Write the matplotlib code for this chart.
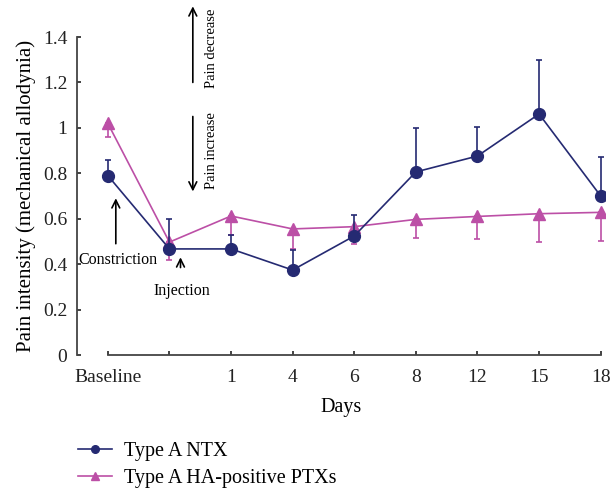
import matplotlib
matplotlib.use("Agg")
import matplotlib.pyplot as plt
from matplotlib.lines import Line2D
import numpy as np

plt.rcParams['font.family'] = ['Liberation Serif', 'DejaVu Serif']

# categories along the x axis (second slot is the injection point, unlabeled)
x_labels = ['Baseline', '', '1', '4', '6', '8', '12', '15', '18']

# Type A NTX
ntx_mean = [0.79, 0.467, 0.467, 0.374, 0.524, 0.806, 0.876, 1.061, 0.70]
ntx_err_up = [0.07, 0.133, 0.06, 0.09, 0.093, 0.194, 0.128, 0.238, 0.172]

# Type A HA-positive PTXs
ptx_mean = [1.02, 0.497, 0.612, 0.555, 0.565, 0.597, 0.610, 0.622, 0.628]
ptx_err_down = [0.06, 0.079, 0.082, 0.088, 0.075, 0.082, 0.10, 0.125, 0.126]

ntx_color = '#252a72'
ptx_color = '#bc4fa6'

x = np.arange(len(x_labels))

fig = plt.figure(figsize=(6.11, 4.96), dpi=100)
ax = fig.add_axes([77 / 611, 141 / 496, 528 / 611, 318 / 496])

zeros = np.zeros(len(x))
ax.errorbar(x, ntx_mean, yerr=[zeros, ntx_err_up], color=ntx_color, marker='o',
            markersize=8.5, linewidth=1.2, elinewidth=1.2, capsize=2.5,
            capthick=1.2, zorder=3)
ax.errorbar(x, ptx_mean, yerr=[ptx_err_down, zeros], color=ptx_color, marker='^',
            markersize=8, linewidth=1.2, elinewidth=1.2, capsize=2.5,
            capthick=1.2, zorder=2)

ax.set_xlim(-0.5, 8.07)
ax.set_ylim(0, 1.4)
ax.set_yticks(np.arange(0, 1.41, 0.2))
ax.set_yticklabels(['0', '0.2', '0.4', '0.6', '0.8', '1', '1.2', '1.4'])
ax.set_xticks(x)
ax.set_xticklabels(x_labels)
ax.tick_params(direction='in', length=3, width=1.2, labelsize=14, colors='#222222')
ax.tick_params(axis='x', pad=10)
ax.tick_params(axis='y', pad=7)

for s in ['top', 'right']:
    ax.spines[s].set_visible(False)
ax.spines['left'].set_linewidth(1.3)
ax.spines['bottom'].set_linewidth(1.3)
ax.spines['left'].set_color('#444444')
ax.spines['bottom'].set_color('#444444')
ax.spines['bottom'].set_bounds(0, 8)

ax.set_ylabel('Pain intensity (mechanical allodynia)', fontsize=15, labelpad=5)
ax.set_xlabel('Days', fontsize=14.5, labelpad=9)

# annotations
arrow = dict(arrowstyle='->', color='black', lw=1.2, mutation_scale=14,
             shrinkA=0, shrinkB=0)
ax.annotate('', xy=(0.13, 0.69), xytext=(0.13, 0.49), arrowprops=arrow)
ax.text(-0.48, 0.42, 'Constriction', fontsize=11.5, va='center', ha='left')
ax.annotate('', xy=(1.18, 0.43), xytext=(1.18, 0.385), arrowprops=arrow)
ax.text(1.2, 0.28, 'Injection', fontsize=11.5, va='center', ha='center')

ax.annotate('', xy=(1.38, 1.535), xytext=(1.38, 1.20), arrowprops=arrow,
            annotation_clip=False)
ax.annotate('', xy=(1.38, 0.72), xytext=(1.38, 1.05), arrowprops=arrow,
            annotation_clip=False)
ax.text(1.69, 1.35, 'Pain decrease', rotation=90, fontsize=10.5,
        va='center', ha='center', clip_on=False)
ax.text(1.69, 0.90, 'Pain increase', rotation=90, fontsize=10.5,
        va='center', ha='center', clip_on=False)

handles = [
    Line2D([], [], color=ntx_color, marker='o', markersize=5.5, linewidth=1.2),
    Line2D([], [], color=ptx_color, marker='^', markersize=5.5, linewidth=1.2),
]
labels = ['Type A NTX', 'Type A HA-positive PTXs']
fig.legend(handles, labels, loc='upper left', bbox_to_anchor=(0.1146, 0.125),
           frameon=False, fontsize=14.5, handlelength=1.7,
           labelspacing=0.4, handletextpad=0.6, borderaxespad=0)

fig.savefig('out.png', dpi=100)
